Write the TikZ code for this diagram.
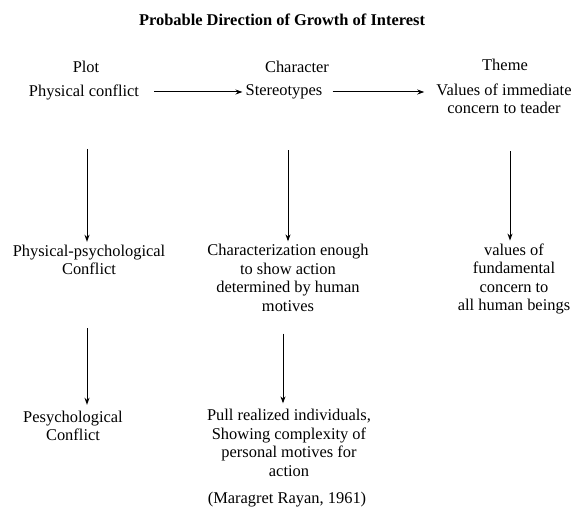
\documentclass[tikz,border=0pt]{standalone}
\usepackage{fontspec}
\setmainfont{Liberation Serif}
\usepackage{tikz}
\usetikzlibrary{arrows.meta, positioning, calc}

\begin{document}
\begin{tikzpicture}[
    x=1bp, y=-1bp,
    every node/.style={inner sep=0pt, align=center, font=\fontsize{16.5}{18.5}\selectfont},
    head/.style={font=\fontsize{16.5}{18.5}\selectfont\bfseries},
    arr/.style={-{Stealth[length=7bp, width=5bp]}, line width=1bp}
  ]
  \useasboundingbox (0,0) rectangle (575,518);

  \node[head] (title) at (282,20) {Probable Direction of Growth of Interest};

  % column heads
  \node (plot)  at (86,67)  {Plot};
  \node (char)  at (297,67) {Character};
  \node (theme) at (505,65) {Theme};

  % first row
  \node (pc)   at (84,92)  {Physical conflict};
  \node (ster) at (284,92) {Stereotypes};
  \node (val)  at (504,99) {Values of immediate\\concern to teader};

  % second row
  \node (pp)    at (89,260)  {Physical-psychological\\Conflict};
  \node (charz) at (288,278) {Characterization enough\\to show action\\determined by human\\motives};
  \node (vfund) at (514,279) {values of\\fundamental\\concern to\\all human beings};

  % third row
  \node (psy)  at (73,426)  {Pesychological\\Conflict};
  \node (full) at (289,443) {Pull realized individuals,\\Showing complexity of\\personal motives for\\action};

  \node (cite) at (287,500) {(Maragret Rayan, 1961)};

  \draw[arr, shorten <=15bp, shorten >=3bp] (pc.east) -- (ster.west);
  \draw[arr, shorten <=10bp, shorten >=12bp] (ster.east) -- (ster.east -| val.west);

  \draw[arr, shorten <=49bp, shorten >=3bp] ([xshift=3bp]pc.south) -- ([xshift=3bp]pc.south |- pp.north);
  \draw[arr, shorten <=51bp, shorten >=3bp] (charz.north |- ster.south) -- (charz.north);
  \draw[arr, shorten <=37bp, shorten >=3bp] ([xshift=-4bp]vfund.north |- val.south) -- ([xshift=-4bp]vfund.north);

  \draw[arr, shorten <=53bp, shorten >=6bp] ([xshift=-2bp]pp.south) -- ([xshift=-2bp]pp.south |- psy.north);
  \draw[arr, shorten <=22bp, shorten >=6bp] ([xshift=-5bp]charz.south) -- ([xshift=-5bp]charz.south |- full.north);
\end{tikzpicture}
\end{document}
